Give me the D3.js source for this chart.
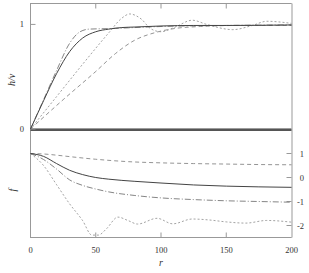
<!DOCTYPE html>
<html><head><meta charset="utf-8">
<script src="https://cdn.jsdelivr.net/npm/d3@7"></script>
<style>html,body{margin:0;padding:0;background:#fff;}svg{display:block;}svg text{font-family:"Liberation Serif","Times New Roman","DejaVu Serif",serif;}</style>
</head><body>
<svg id="c" width="309" height="273"></svg>
<script>
// r values and series (top panel: h/v, bottom panel: f)
const hSolidR = [0,10,20,30,40,50,60,70,80,100,125,150,200];
const hSolid  = [0,0.27,0.53,0.74,0.87,0.93,0.955,0.97,0.975,0.985,0.99,0.99,0.995];
const hDashDotR = [0,10,20,30,38,45,60,80,100,150,200];
const hDashDot  = [0,0.28,0.56,0.82,0.93,0.955,0.96,0.97,0.98,0.99,0.995];
const hDashR = [0,25,50,65,80,95,110,130,160,200];
const hDash  = [0,0.28,0.55,0.72,0.85,0.92,0.96,0.98,0.99,0.99];
const hDotR = [0,20,40,60,70,76,85,92,100,110,124,135,155,170,181,200];
const hDot  = [0,0.31,0.62,0.92,1.06,1.1,1.05,0.96,0.93,0.97,1.04,1.0,0.95,0.99,1.03,1.01];

const fDashR = [0,10,20,30,50,75,100,125,150,175,200];
const fDash  = [1,0.98,0.93,0.87,0.76,0.66,0.61,0.58,0.56,0.54,0.53];
const fSolidR = [0,10,20,30,40,50,60,80,100,125,150,175,200];
const fSolid  = [1,0.88,0.58,0.3,0.12,0.0,-0.07,-0.16,-0.23,-0.31,-0.36,-0.39,-0.41];
const fDashDotR = [0,10,20,30,40,50,60,80,100,125,150,175,200];
const fDashDot  = [1,0.75,0.35,-0.1,-0.33,-0.48,-0.6,-0.75,-0.85,-0.92,-0.97,-1.0,-1.03];
const fDotR = [0,10,20,30,40,47,52,58,67,75,82,97,109,124,137,150,165,181,200];
const fDot  = [1,0.5,-0.3,-1.1,-1.8,-2.4,-2.4,-2.15,-1.65,-1.8,-1.94,-1.7,-1.93,-1.73,-1.77,-1.85,-1.9,-1.79,-1.86];

const xTicks = [0,50,100,150,200];
const hTicks = [0,1];
const fTicks = [1,0,-1,-2];

const svg = d3.select("#c");
const FONT = "Liberation Serif, Times New Roman, serif";
const x = d3.scaleLinear().domain([0,200]).range([30.5,291.5]);
const yh = d3.scaleLinear().domain([0,1.2]).range([129,3.5]);
const yf = d3.scaleLinear().domain([-2.5,2]).range([237.5,129.5]);

const frame = "#999";
svg.append("rect").attr("x",x(0)).attr("y",yh(1.2)).attr("width",x(200)-x(0)).attr("height",yh(0)-yh(1.2))
  .attr("fill","none").attr("stroke",frame).attr("stroke-width",1);
svg.append("rect").attr("x",x(0)).attr("y",yf(2)).attr("width",x(200)-x(0)).attr("height",yf(-2.5)-yf(2))
  .attr("fill","none").attr("stroke",frame).attr("stroke-width",1);
svg.append("line").attr("x1",x(200)+0.5).attr("x2",x(200)+0.5).attr("y1",yh(1.2)).attr("y2",yf(-2.5))
  .attr("stroke","#ccc").attr("stroke-width",2);
svg.append("rect").attr("x",x(0)).attr("y",128.6).attr("width",x(200)-x(0)).attr("height",2.4).attr("fill","#555");

const tl = 5;
function txt(xp, yp, s, anchor, size, italic, rot){
  const t = svg.append("text").attr("font-family",FONT).attr("font-size",size).attr("fill","#333")
    .attr("text-anchor",anchor).text(s);
  if (rot) t.attr("transform",`translate(${xp},${yp}) rotate(-90)`);
  else t.attr("x",xp).attr("y",yp);
  if (italic) t.attr("font-style","italic");
}
xTicks.slice(1,4).forEach(v=>{
  svg.append("line").attr("x1",x(v)).attr("x2",x(v)).attr("y1",yh(1.2)).attr("y2",yh(1.2)+tl).attr("stroke",frame);
  svg.append("line").attr("x1",x(v)).attr("x2",x(v)).attr("y1",yf(-2.5)).attr("y2",yf(-2.5)-tl).attr("stroke",frame);
});
hTicks.forEach(v=>{
  svg.append("line").attr("x1",x(0)).attr("x2",x(0)+tl).attr("y1",yh(v)).attr("y2",yh(v)).attr("stroke",frame);
  txt(24, yh(v)+3, String(v), "end", 8.5);
});
fTicks.forEach(v=>{
  svg.append("line").attr("x1",x(200)-tl).attr("x2",x(200)).attr("y1",yf(v)).attr("y2",yf(v)).attr("stroke",frame);
  txt(304, yf(v)+3, v<0?"-"+(-v):String(v), "end", 8.5);
});
xTicks.forEach(v=> txt(x(v), 253, String(v), "middle", 8.5));
txt(161, 266, "r", "middle", 10, true);
txt(15, 80, "h/v", "middle", 10, true, true);
txt(16, 190, "f", "middle", 10, true, true);

function draw(rs, vs, y, dash, color, w){
  const line = d3.line().x((d,i)=>x(rs[i])).y(d=>y(d)).curve(d3.curveMonotoneX);
  svg.append("path").datum(vs).attr("d",line).attr("fill","none").attr("stroke",color)
    .attr("stroke-width",w).attr("stroke-dasharray",dash);
}
draw(hDashR,hDash,yh,"4,3","#888",0.9);
draw(hDotR,hDot,yh,"2,2","#999",0.9);
draw(hDashDotR,hDashDot,yh,"6,2,1,2","#777",0.9);
draw(hSolidR,hSolid,yh,null,"#444",1);

draw(fDashR,fDash,yf,"4,3","#888",0.9);
draw(fDotR,fDot,yf,"2,2","#999",0.9);
draw(fDashDotR,fDashDot,yf,"6,2,1,2","#777",0.9);
draw(fSolidR,fSolid,yf,null,"#444",1);
</script>
</body></html>
